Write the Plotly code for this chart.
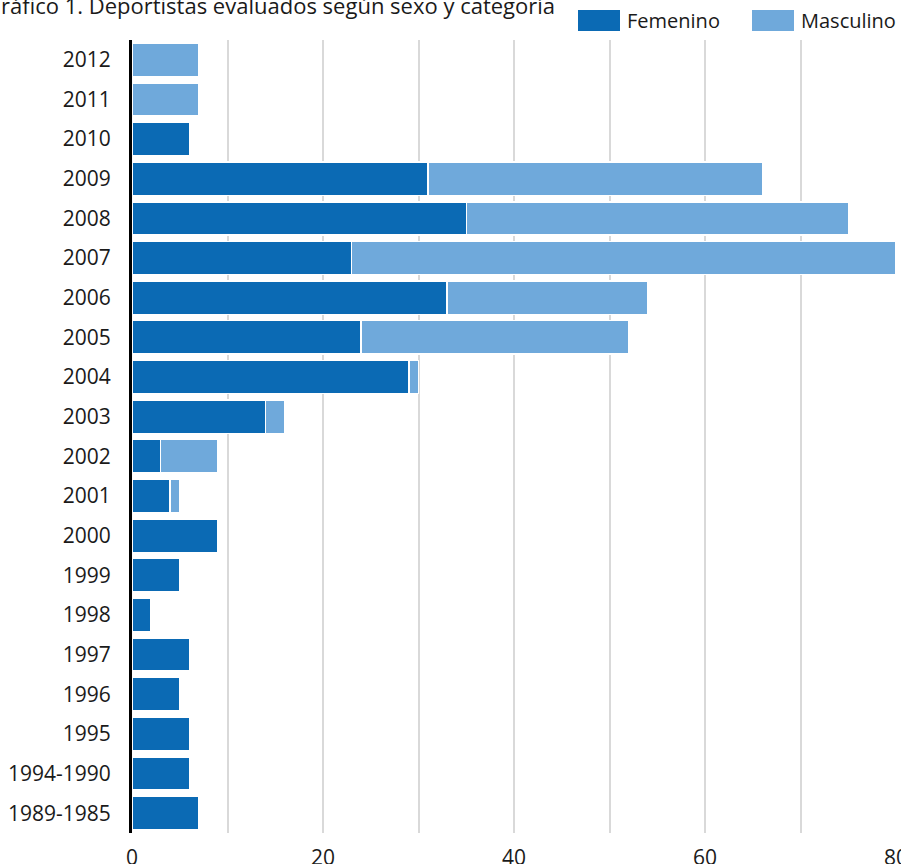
import plotly.graph_objects as go

categories = ["2012", "2011", "2010", "2009", "2008", "2007", "2006", "2005", "2004", "2003",
              "2002", "2001", "2000", "1999", "1998", "1997", "1996", "1995", "1994-1990", "1989-1985"]
femenino = [0, 0, 6, 31, 35, 23, 33, 24, 29, 14, 3, 4, 9, 5, 2, 6, 5, 6, 6, 7]
masculino = [7, 7, 0, 35, 40, 57, 21, 28, 1, 2, 6, 1, 0, 0, 0, 0, 0, 0, 0, 0]
x_ticks = [0, 20, 40, 60, 80]

C_FEM = "#0b6ab4"
C_MASC = "#6fa9db"
FONT = "Open Sans"
TXT = "#1a1a1a"

W, H = 901, 864
ML, MR, MT, MB = 132, 5, 40, 31
PW, PH = W - ML - MR, H - MT - MB

def px(x):
    return (x - ML) / PW

def py(y):
    return (H - MB - y) / PH

fig = go.Figure()
fig.add_trace(go.Bar(y=categories, x=femenino, name="Femenino", orientation="h",
                     marker=dict(color=C_FEM, line=dict(color="white", width=1.5)),
                     showlegend=False))
fig.add_trace(go.Bar(y=categories, x=masculino, name="Masculino", orientation="h",
                     marker=dict(color=C_MASC, line=dict(color="white", width=1.5)),
                     showlegend=False))

# legend drawn manually
shapes = []
annotations = []
for name, col, x0, tx in [("Femenino", C_FEM, 578, 625), ("Masculino", C_MASC, 752, 799)]:
    shapes.append(dict(type="rect", xref="paper", yref="paper",
                       x0=px(x0), x1=px(x0 + 42), y0=py(31), y1=py(10),
                       fillcolor=col, line=dict(width=0)))
    annotations.append(dict(text=name, xref="paper", yref="paper", x=px(tx), y=py(20.5),
                            xanchor="left", yanchor="middle", showarrow=False,
                            font=dict(family=FONT, size=20, color=TXT)))

annotations.append(dict(text="Gráfico 1. Deportistas evaluados según sexo y categoría",
                        xref="paper", yref="paper", x=px(557), y=py(5.5),
                        xanchor="right", yanchor="middle", showarrow=False,
                        font=dict(family=FONT, size=22, color=TXT)))

fig.update_layout(
    width=W, height=H,
    margin=dict(l=ML, r=MR, t=MT, b=MB),
    barmode="stack", bargap=0.16,
    plot_bgcolor="white", paper_bgcolor="white",
    font=dict(family=FONT, size=21, color=TXT),
    shapes=shapes, annotations=annotations,
    xaxis=dict(range=[0, 80], tickvals=x_ticks, showgrid=True, gridcolor="#d9d9d9", gridwidth=2,
               minor=dict(dtick=10, showgrid=True, gridcolor="#d9d9d9", gridwidth=2),
               zeroline=False, showline=False, ticks="", ticklabelstandoff=10,
               automargin=False, ticklabeloverflow="allow"),
    yaxis=dict(autorange="reversed", showline=True, linecolor="black", linewidth=3,
               ticks="", showgrid=False, ticklabelstandoff=14, automargin=False),
)

fig.write_html("out.html", config={"displayModeBar": False},
               post_script="document.body.style.margin='0';")
